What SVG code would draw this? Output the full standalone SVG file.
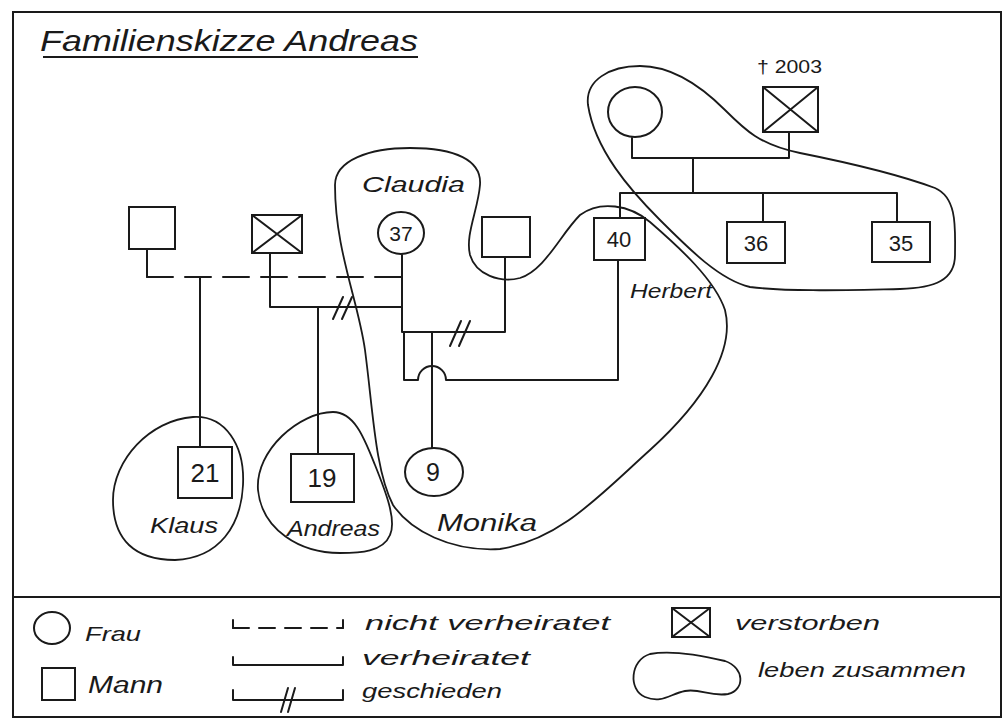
<svg xmlns="http://www.w3.org/2000/svg" width="1003" height="720" viewBox="0 0 1003 720">
<style>
.ln{fill:none;stroke:#1a1a1a;stroke-width:2;stroke-linecap:round;stroke-linejoin:round}
.sh{fill:#fff;stroke:#1a1a1a;stroke-width:2}
.loop{fill:none;stroke:#1a1a1a;stroke-width:1.8}
.lbl{font-family:"Liberation Sans","DejaVu Sans",sans-serif;font-style:italic;fill:#1a1a1a}
.num{font-family:"Liberation Sans","DejaVu Sans",sans-serif;fill:#1a1a1a;text-anchor:middle}
.up{font-family:"Liberation Sans","DejaVu Sans",sans-serif;fill:#1a1a1a}
</style>
<rect width="1003" height="720" fill="#fff"/>
<!-- frame -->
<rect x="13" y="12" width="988" height="705" fill="none" stroke="#1a1a1a" stroke-width="2"/>
<line x1="13" y1="597" x2="1001" y2="597" stroke="#1a1a1a" stroke-width="2"/>
<!-- title -->
<text class="lbl" x="40" y="51" font-size="30" textLength="378" lengthAdjust="spacingAndGlyphs">Familienskizze Andreas</text>
<line x1="43" y1="57" x2="418" y2="57" stroke="#1a1a1a" stroke-width="2"/>

<!-- living-together loops -->
<g id="loops">
<path class="loop" d="M193 417 C225 415 245 445 243 485 C241 525 220 558 175 560 C135 560 113 540 113 500 C113 460 150 420 193 417 Z"/>
<path class="loop" d="M333 412 C355 412 365 440 375 465 C385 490 397 520 390 535 C383 552 360 553 340 553 C300 553 262 530 258 490 C255 450 300 412 333 412 Z"/>
<path class="loop" d="M335 185 C335 160 370 148 410 148 C455 148 482 160 480 185 C478 210 465 235 470 255 C476 275 500 283 520 278 C545 270 560 235 580 215 C600 200 630 205 650 222 C680 248 715 280 725 310 C735 350 705 400 650 450 C600 495 560 540 500 549 C450 552 410 530 393 505 C375 470 373 410 365 350 C358 300 335 250 335 185 Z"/>
<path class="loop" d="M588 105 C585 80 610 66 640 66 C670 66 700 85 725 110 C745 130 760 145 800 153 C850 163 900 175 935 188 C958 198 955 230 955 255 C955 280 935 288 900 289 C850 290 790 292 750 287 C720 280 690 250 660 220 C630 190 595 150 588 105 Z"/>
</g>

<!-- connectors -->
<g id="connectors">
<path class="ln" d="M147 249 V277"/>
<path class="ln" d="M147 277 H401" stroke-dasharray="26 12"/>
<path class="ln" d="M200 277 V447"/>
<path class="ln" d="M270 253 V307 H402"/>
<path class="ln" d="M333 319 L343 297 M342 319 L352 297"/>
<path class="ln" d="M318 307 V453"/>
<path class="ln" d="M402 255 V332 H505 V257"/>
<path class="ln" d="M450 346 L461 321 M459 346 L470 321"/>
<path class="ln" d="M432 332 V448"/>
<path class="ln" d="M404 332 V380 H418 A14 14 0 0 1 446 380 H618 V260"/>
<path class="ln" d="M632 138 V158 H789 V132"/>
<path class="ln" d="M693 158 V193"/>
<path class="ln" d="M620 218 V193 H897 V222"/>
<path class="ln" d="M763 193 V222"/>
</g>

<!-- nodes -->
<g id="klaus-father"><rect class="sh" x="129" y="207" width="46" height="42"/></g>
<g id="andreas-father"><rect class="sh" x="252" y="215" width="50" height="38"/>
<path class="ln" d="M252 215 L302 253 M302 215 L252 253"/></g>
<g id="claudia"><ellipse class="sh" cx="401" cy="233" rx="23" ry="21"/>
<text class="num" x="401" y="241" font-size="21">37</text>
<text class="lbl" x="362" y="192" font-size="22" textLength="103" lengthAdjust="spacingAndGlyphs">Claudia</text></g>
<g id="monika-father"><rect class="sh" x="482" y="217" width="48" height="40"/></g>
<g id="herbert"><rect class="sh" x="594" y="218" width="51" height="42"/>
<text class="num" x="619" y="247" font-size="22">40</text>
<text class="lbl" x="630" y="298" font-size="20" textLength="82" lengthAdjust="spacingAndGlyphs">Herbert</text></g>
<g id="sibling-36"><rect class="sh" x="727" y="222" width="58" height="41"/>
<text class="num" x="756" y="251" font-size="22">36</text></g>
<g id="sibling-35"><rect class="sh" x="872" y="222" width="58" height="40"/>
<text class="num" x="901" y="251" font-size="22">35</text></g>
<g id="grandmother"><ellipse class="sh" cx="635" cy="112" rx="27" ry="25"/></g>
<g id="grandfather"><rect class="sh" x="763" y="87" width="55" height="45"/>
<path class="ln" d="M763 87 L818 132 M818 87 L763 132"/>
<text class="up" x="757" y="73" font-size="19" textLength="65" lengthAdjust="spacingAndGlyphs">† 2003</text></g>
<g id="klaus"><rect class="sh" x="178" y="447" width="54" height="51"/>
<text class="num" x="205" y="482" font-size="26">21</text>
<text class="lbl" x="150" y="533" font-size="22" textLength="68" lengthAdjust="spacingAndGlyphs">Klaus</text></g>
<g id="andreas"><rect class="sh" x="291" y="454" width="63" height="48" stroke-width="4.5"/>
<text class="num" x="322" y="487" font-size="26">19</text>
<text class="lbl" x="287" y="536" font-size="22" textLength="93" lengthAdjust="spacingAndGlyphs">Andreas</text></g>
<g id="monika"><ellipse class="sh" cx="434" cy="472" rx="29" ry="24"/>
<text class="num" x="433" y="481" font-size="25">9</text>
<text class="lbl" x="437" y="531" font-size="23" textLength="100" lengthAdjust="spacingAndGlyphs">Monika</text></g>

<!-- legend -->
<g id="legend">
<ellipse class="sh" cx="52" cy="628" rx="18" ry="16"/>
<text class="lbl" x="85" y="641" font-size="21" textLength="56" lengthAdjust="spacingAndGlyphs">Frau</text>
<rect class="sh" x="42" y="668" width="33" height="32"/>
<text class="lbl" x="88" y="693" font-size="23" textLength="75" lengthAdjust="spacingAndGlyphs">Mann</text>
<path class="ln" d="M233 620 V628 M343 620 V628"/>
<path class="ln" d="M233 628 H343" stroke-dasharray="16 10"/>
<path class="ln" d="M233 657 V665 H343 V657"/>
<path class="ln" d="M233 690 V700 H343 V690"/>
<path class="ln" d="M281 712 L288 688 M288 712 L295 688"/>
<text class="lbl" x="365" y="630" font-size="21" textLength="245" lengthAdjust="spacingAndGlyphs">nicht verheiratet</text>
<text class="lbl" x="362" y="665" font-size="21" textLength="168" lengthAdjust="spacingAndGlyphs">verheiratet</text>
<text class="lbl" x="362" y="698" font-size="21" textLength="140" lengthAdjust="spacingAndGlyphs">geschieden</text>
<rect class="sh" x="672" y="608" width="38" height="29"/>
<path class="ln" d="M672 608 L710 637 M710 608 L672 637"/>
<text class="lbl" x="735" y="630" font-size="21" textLength="145" lengthAdjust="spacingAndGlyphs">verstorben</text>
<path class="loop" d="M650 654 C670 650 700 655 725 661 C745 668 745 690 728 694 C710 697 700 688 685 691 C670 694 662 704 645 697 C628 690 630 660 650 654 Z"/>
<text class="lbl" x="758" y="677" font-size="20" textLength="208" lengthAdjust="spacingAndGlyphs">leben zusammen</text>
</g>
</svg>
